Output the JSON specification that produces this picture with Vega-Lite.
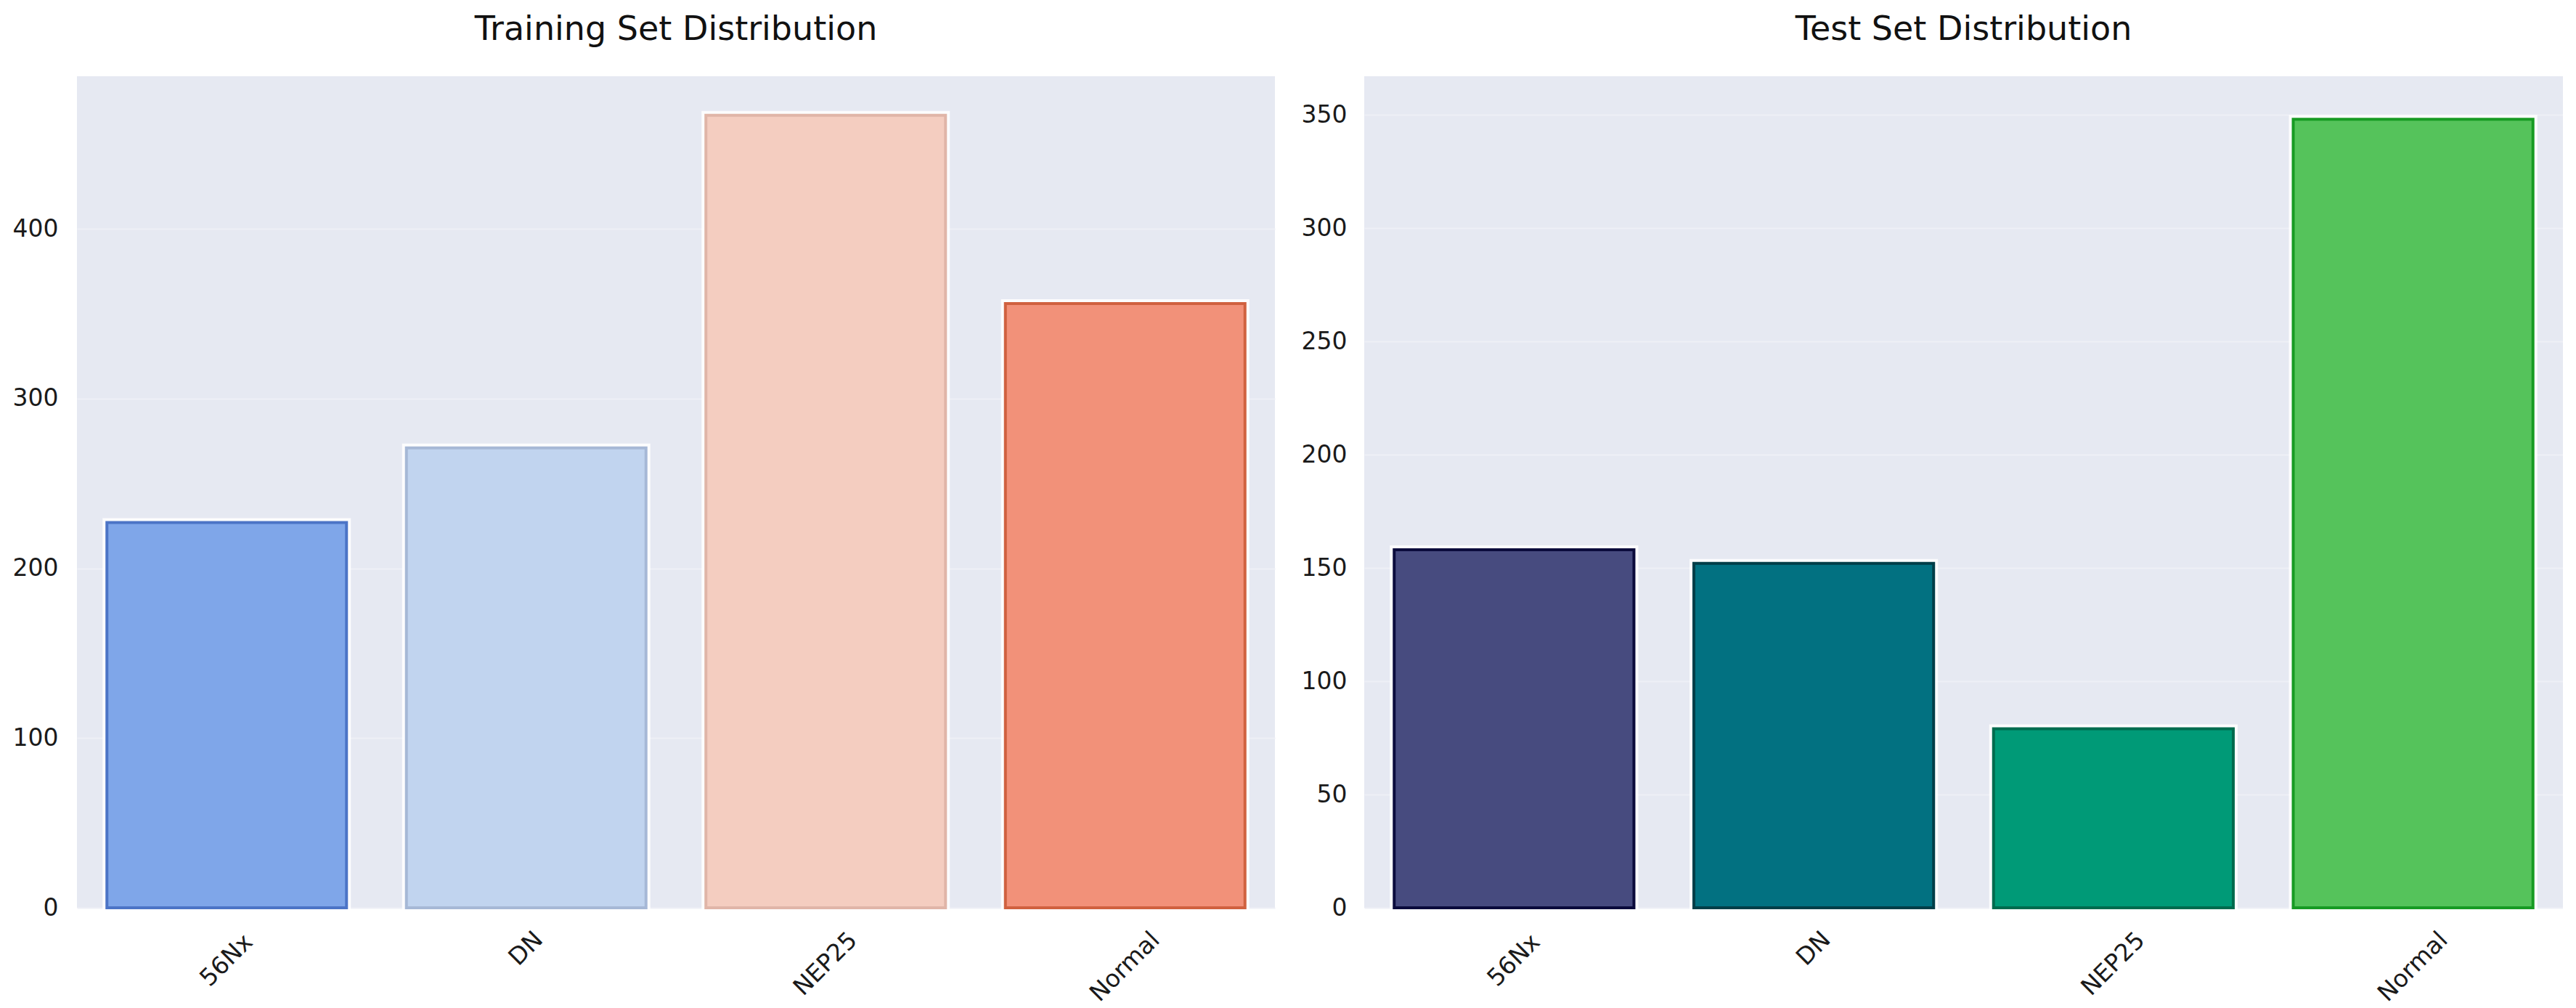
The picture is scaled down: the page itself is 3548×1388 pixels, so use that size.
{
  "$schema": "https://vega.github.io/schema/vega-lite/v6.json",
  "background": "white",
  "padding": {"left": 17, "top": 18, "right": 0, "bottom": 0},
  "spacing": 36,
  "datasets": {
    "train": [
      {"cls": "56Nx", "count": 227},
      {"cls": "DN", "count": 271},
      {"cls": "NEP25", "count": 467},
      {"cls": "Normal", "count": 356}
    ],
    "test": [
      {"cls": "56Nx", "count": 158},
      {"cls": "DN", "count": 152},
      {"cls": "NEP25", "count": 79},
      {"cls": "Normal", "count": 348}
    ]
  },
  "config": {
    "font": "DejaVu Sans",
    "view": {"fill": "#E6E9F2", "stroke": null},
    "title": {"font": "DejaVu Sans", "fontSize": 46, "fontWeight": "normal", "color": "#111111", "offset": 40},
    "axis": {
      "labelFont": "DejaVu Sans",
      "labelFontSize": 33,
      "labelColor": "#1a1a1a",
      "domain": false,
      "ticks": false,
      "title": null,
      "gridColor": "#EEF0F6",
      "gridWidth": 2
    },
    "axisX": {"grid": false},
    "scale": {"bandPaddingInner": 0.2, "bandPaddingOuter": 0.1}
  },
  "hconcat": [
    {
      "title": "Training Set Distribution",
      "width": 1650,
      "height": 1145,
      "data": {"name": "train"},
      "encoding": {
        "x": {
          "field": "cls", "type": "nominal", "sort": null,
          "axis": {
            "labelAngle": -45, "labelAlign": "center", "labelBaseline": "middle",
            "labelPadding": {"condition": [
              {"test": "datum.value == 'DN'", "value": 56},
              {"test": "datum.value == '56Nx'", "value": 72},
              {"test": "datum.value == 'NEP25'", "value": 77}
            ], "value": 81}
          }
        },
        "y": {
          "field": "count", "type": "quantitative",
          "scale": {"domain": [0, 490], "nice": false},
          "axis": {"values": [0, 100, 200, 300, 400], "labelPadding": 26}
        }
      },
      "layer": [
        {
          "mark": {"type": "bar", "fill": "white", "stroke": "white", "strokeWidth": 12, "strokeOpacity": 0.85}
        },
        {
          "mark": {"type": "bar", "strokeWidth": 4},
          "encoding": {
            "fill": {"field": "cls", "type": "nominal", "legend": null,
              "scale": {"domain": ["56Nx", "DN", "NEP25", "Normal"], "range": ["#7FA6E9", "#C1D4EF", "#F4CDC0", "#F29179"]}},
            "stroke": {"field": "cls", "type": "nominal", "legend": null,
              "scale": {"domain": ["56Nx", "DN", "NEP25", "Normal"], "range": ["#4C74C6", "#A6B8D6", "#E0B5A8", "#D0613F"]}}
          }
        }
      ]
    },
    {
      "title": "Test Set Distribution",
      "width": 1651,
      "height": 1145,
      "data": {"name": "test"},
      "encoding": {
        "x": {
          "field": "cls", "type": "nominal", "sort": null,
          "axis": {
            "labelAngle": -45, "labelAlign": "center", "labelBaseline": "middle",
            "labelPadding": {"condition": [
              {"test": "datum.value == 'DN'", "value": 56},
              {"test": "datum.value == '56Nx'", "value": 72},
              {"test": "datum.value == 'NEP25'", "value": 77}
            ], "value": 81}
          }
        },
        "y": {
          "field": "count", "type": "quantitative",
          "scale": {"domain": [0, 367], "nice": false},
          "axis": {"values": [0, 50, 100, 150, 200, 250, 300, 350], "labelPadding": 24}
        }
      },
      "layer": [
        {
          "mark": {"type": "bar", "fill": "white", "stroke": "white", "strokeWidth": 12, "strokeOpacity": 0.85}
        },
        {
          "mark": {"type": "bar", "strokeWidth": 4},
          "encoding": {
            "fill": {"field": "cls", "type": "nominal", "legend": null,
              "scale": {"domain": ["56Nx", "DN", "NEP25", "Normal"], "range": ["#474B7F", "#027181", "#009A77", "#55C35B"]}},
            "stroke": {"field": "cls", "type": "nominal", "legend": null,
              "scale": {"domain": ["56Nx", "DN", "NEP25", "Normal"], "range": ["#0B0B3C", "#023E48", "#006B4E", "#179B23"]}}
          }
        }
      ]
    }
  ],
  "resolve": {"scale": {"fill": "independent", "stroke": "independent"}}
}
